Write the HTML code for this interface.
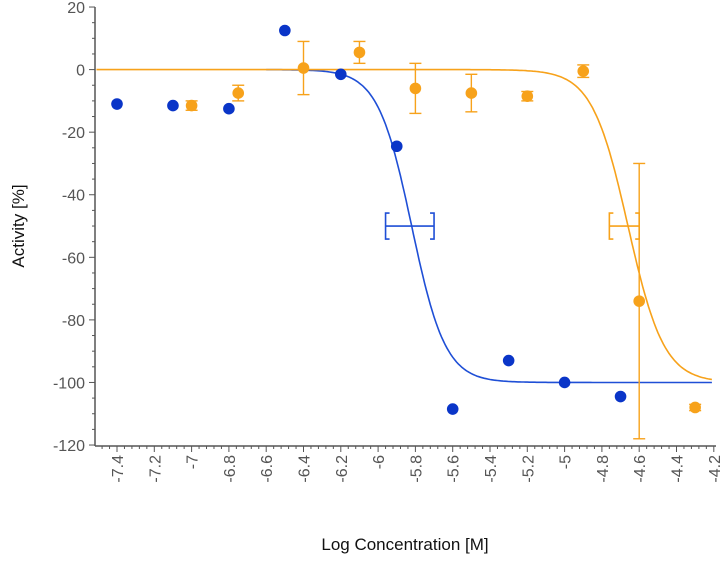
<!DOCTYPE html>
<html><head><meta charset="utf-8"><style>
html,body{margin:0;padding:0;background:#fff;}
svg{display:block;font-family:"Liberation Sans",sans-serif;}
</style></head><body>
<svg id="chart" width="726" height="564"></svg>
<script>
const xTicks=[-7.4,-7.2,-7,-6.8,-6.6,-6.4,-6.2,-6,-5.8,-5.6,-5.4,-5.2,-5,-4.8,-4.6,-4.4,-4.2];
const yTicks=[20,0,-20,-40,-60,-80,-100,-120];
const blueX=[-7.4,-7.1,-6.8,-6.5,-6.2,-5.9,-5.6,-5.3,-5,-4.7];
const blueY=[-11,-11.5,-12.5,12.5,-1.5,-24.5,-108.5,-93,-100,-104.5];
const orangeX=[-7,-6.75,-6.4,-6.1,-5.8,-5.5,-5.2,-4.9,-4.6,-4.3];
const orangeY=[-11.5,-7.5,0.5,5.5,-6,-7.5,-8.5,-0.5,-74,-108];
const orangeErr=[1.5,2.5,8.5,3.5,8,6,1.5,2,44,1];
const blueFit=[-5.82,4.8,0,-100];
const orangeFit=[-4.66,4.5,0,-100];
const blueEC=[-5.96,-5.7];
const orangeEC=[-4.76,-4.6];
const NS="http://www.w3.org/2000/svg";
const svg=document.getElementById('chart');
const X0=-7.4,XP0=117,XS=37.3/0.2;
const sx=v=>XP0+(v-X0)*XS;
const sy=v=>69.6-v*(438/140);
function el(t,a,p){const e=document.createElementNS(NS,t);for(const k in a)e.setAttribute(k,a[k]);(p||svg).appendChild(e);return e;}
const ax=el('g',{});


el('line',{x1:95,y1:7,x2:95,y2:446,stroke:'#555','stroke-width':1.5},ax);
el('line',{x1:95,y1:446,x2:716,y2:446,stroke:'#555','stroke-width':1.5},ax);
for(let v=20;v>=-120;v-=5){const y=sy(v);const maj=v%20===0;el('line',{x1:maj?89:92,y1:y,x2:95,y2:y,stroke:'#555','stroke-width':1},ax);}
yTicks.forEach(v=>{const t=el('text',{x:85,y:sy(v)+6,'text-anchor':'end','font-size':16,fill:'#555'},ax);t.textContent=v;

});
for(let i=0;i<=90;i++){const v=-7.56+i*0.04;const x=sx(v);if(x<96||x>717)continue;const maj=Math.abs(Math.round(v*5)-v*5)<1e-6;el('line',{x1:x,y1:446,x2:x,y2:maj?452:449,stroke:'#555','stroke-width':1},ax);}
xTicks.forEach(v=>{const x=sx(v);const t=el('text',{x:0,y:0,'text-anchor':'end','font-size':16,fill:'#555',transform:`translate(${x+6},455) rotate(-90)`},ax);t.textContent=String(v);

});
const yl=el('text',{x:0,y:0,'text-anchor':'middle','font-size':17,fill:'#111',transform:'translate(24,226) rotate(-90)'});yl.textContent='Activity [%]';


const xl=el('text',{x:405,y:550,'text-anchor':'middle','font-size':17,fill:'#111'});xl.textContent='Log Concentration [M]';


function fit(p,x){return p[2]+(p[3]-p[2])/(1+Math.pow(10,p[1]*(p[0]-x)));}
function curve(p,col,name,start){let d='';for(let x=start;x<=-4.2001;x+=0.01){d+=(d?'L':'M')+sx(x).toFixed(1)+','+sy(fit(p,x)).toFixed(1);}
const c=el('path',{d,fill:'none',stroke:col,'stroke-width':1.6});

}
curve(blueFit,'#1f4fd6','blue-fit-curve',-6.6);
curve(orangeFit,'#f7a21b','orange-fit-curve',-7.51);
function ecbar(r,col,name){const g=el('g',{stroke:col,'stroke-width':1.6,fill:'none'});


const y=sy(-50),a=sx(r[0]),b=sx(r[1]);
el('line',{x1:a,y1:y,x2:b,y2:y},g);
el('path',{d:`M${a+4},${y-13}H${a}V${y+13}H${a+4}`},g);
el('path',{d:`M${b-4},${y-13}H${b}V${y+13}H${b-4}`},g);}
ecbar(blueEC,'#1f4fd6','blue-ec50-bar');
ecbar(orangeEC,'#f7a21b','orange-ec50-bar');
orangeX.forEach((v,i)=>{const g=el('g',{});


const x=sx(v),y=sy(orangeY[i]),y1=sy(orangeY[i]+orangeErr[i]),y2=sy(orangeY[i]-orangeErr[i]);
el('line',{x1:x,y1:y1,x2:x,y2:y2,stroke:'#f7a21b','stroke-width':1.4},g);
el('line',{x1:x-6,y1:y1,x2:x+6,y2:y1,stroke:'#f7a21b','stroke-width':1.4},g);
el('line',{x1:x-6,y1:y2,x2:x+6,y2:y2,stroke:'#f7a21b','stroke-width':1.4},g);
el('circle',{cx:x,cy:y,r:5.8,fill:'#f7a21b'},g);});
blueX.forEach((v,i)=>{const c=el('circle',{cx:sx(v),cy:sy(blueY[i]),r:5.8,fill:'#0a35c8'});

});
</script>
</body></html>
